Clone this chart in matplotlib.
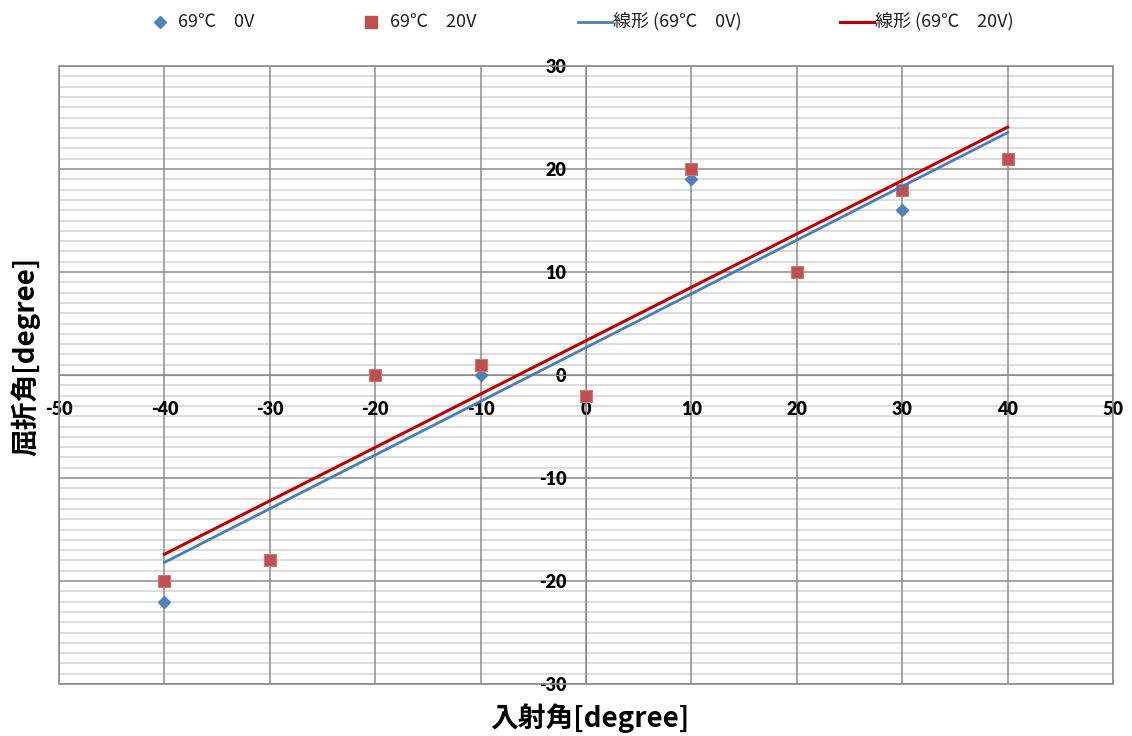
import numpy as np
import matplotlib
matplotlib.use("Agg")
import matplotlib.pyplot as plt
from matplotlib.patches import Rectangle
from matplotlib.lines import Line2D

plt.rcParams['font.family'] = ['Noto Sans CJK JP', 'DejaVu Sans']

# Incidence angles and measured refraction angles
incidence = [-40, -30, -20, -10, 0, 10, 20, 30, 40]
refr_0v = [-22, -18, 0, 0, -2, 19, 10, 16, 21]
refr_20v = [-20, -18, 0, 1, -2, 20, 10, 18, 21]

x_ticks = [-50, -40, -30, -20, -10, 0, 10, 20, 30, 40, 50]
y_ticks = [-30, -20, -10, 0, 10, 20, 30]

label_0v = "69℃\u30000V"
label_20v = "69℃\u300020V"

c_blue = "#4F81BD"
c_red = "#C0504D"
c_line_blue = "#4A7EBB"
c_line_red = "#C00000"

W, H = 1132, 736
fig = plt.figure(figsize=(W / 100, H / 100), dpi=100)
ax = fig.add_axes([59 / W, 1 - 684 / H, (1113 - 59) / W, (684 - 66) / H])
ax.set_xlim(-50, 50)
ax.set_ylim(-30, 30)

# grid: minor every 1 on y, major every 10 on both axes
for v in np.arange(-30, 31, 1):
    if v % 10 != 0:
        ax.axhline(v, color="#D3D3D3", lw=1.1, zorder=0)
for v in y_ticks:
    ax.axhline(v, color="#8C8C8C", lw=1.1, zorder=0.5)
for v in x_ticks:
    ax.axvline(v, color="#8C8C8C", lw=1.1, zorder=0.5)

# axes cross at the origin
for s in ["top", "right"]:
    ax.spines[s].set_visible(False)
ax.spines["left"].set_position(("data", 0))
ax.spines["bottom"].set_position(("data", 0))
ax.spines["left"].set_color("#8C8C8C")
ax.spines["bottom"].set_color("#8C8C8C")
ax.add_patch(Rectangle((0, 0), 1, 1, transform=ax.transAxes, fill=False,
                       edgecolor="#8C8C8C", lw=1.2, clip_on=False, zorder=3))

ax.set_xticks(x_ticks)
ax.set_yticks(y_ticks)
tick_font = dict(family=["Lato", "DejaVu Sans"], weight="heavy", size=13)
ax.set_xticklabels([str(t) for t in x_ticks], **tick_font)
ax.set_yticklabels([str(t) for t in y_ticks], **tick_font)
ax.tick_params(axis="x", length=0, pad=19)
ax.tick_params(axis="y", length=0, pad=14)

# data series
ax.plot(incidence, refr_0v, linestyle="none", marker="D", ms=6, color=c_blue,
        markeredgecolor=c_blue, zorder=4)
ax.plot(incidence, refr_20v, linestyle="none", marker="s", ms=8.5, color=c_red,
        markeredgecolor="#D07A78", markeredgewidth=0.8, zorder=5)

# linear trend lines
xs = np.array([min(incidence), max(incidence)])
k0, b0 = np.polyfit(incidence, refr_0v, 1)
k1, b1 = np.polyfit(incidence, refr_20v, 1)
ax.plot(xs, k0 * xs + b0, color=c_line_blue, lw=2.0, zorder=6)
ax.plot(xs, k1 * xs + b1, color=c_line_red, lw=2.2, zorder=6)

# axis titles
fig.text(590 / W, 1 - 718 / H, "入射角[degree]", ha="center", va="center",
         fontsize=20, fontweight="bold")
fig.text(26 / W, 1 - 356 / H, "屈折角[degree]", ha="center", va="center",
         rotation=90, fontsize=20, fontweight="bold")

# legend row along the top
ly = 1 - 22 / H
leg_font = dict(fontsize=13, va="center", ha="left", color="#202020")
fig.add_artist(Line2D([160 / W], [ly], marker="D", ms=6, color=c_blue,
                      linestyle="none", transform=fig.transFigure))
fig.text(178 / W, ly, label_0v, **leg_font)
fig.add_artist(Line2D([371 / W], [ly], marker="s", ms=8.5, color=c_red,
                      linestyle="none", transform=fig.transFigure))
fig.text(390 / W, ly, label_20v, **leg_font)
fig.add_artist(Line2D([578 / W, 612 / W], [ly, ly], color=c_line_blue, lw=2.0,
                      transform=fig.transFigure))
fig.text(613 / W, ly, "線形 (" + label_0v + ")", **leg_font)
fig.add_artist(Line2D([840 / W, 874 / W], [ly, ly], color=c_line_red, lw=2.2,
                      transform=fig.transFigure))
fig.text(875 / W, ly, "線形 (" + label_20v + ")", **leg_font)

fig.savefig("out.png", dpi=100)
